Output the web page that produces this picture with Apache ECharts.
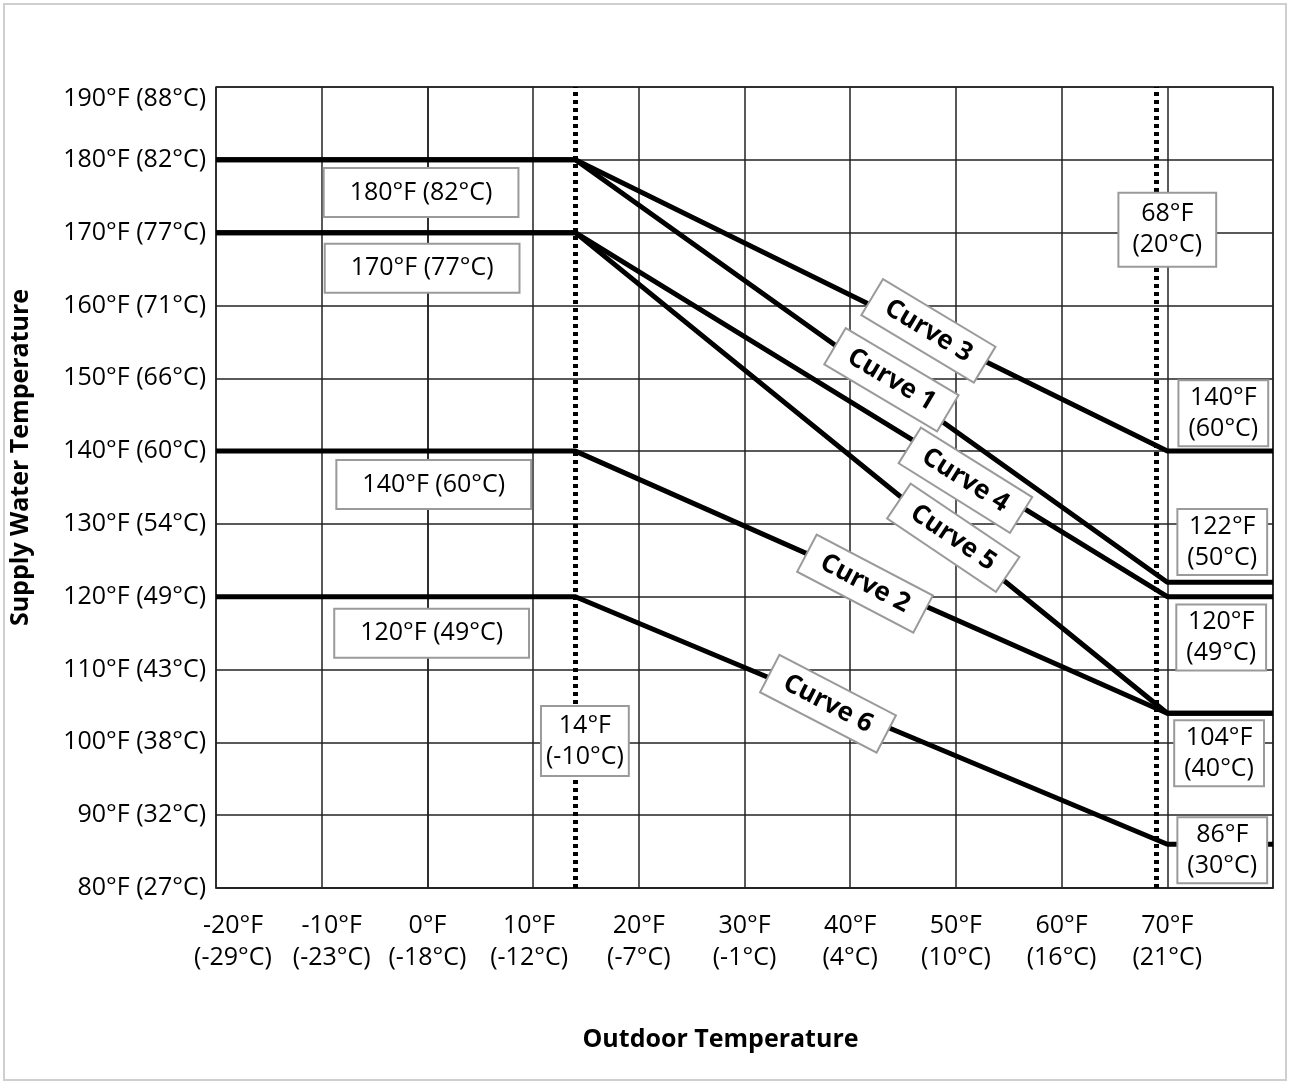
<!DOCTYPE html>
<html>
<head>
<meta charset="utf-8">
<script src="https://cdn.jsdelivr.net/npm/echarts@6/dist/echarts.min.js"></script>
<style>
html,body{margin:0;padding:0;background:#fff;}
#chart{width:1293px;height:1086px;}
</style>
</head>
<body>
<div id="chart"></div>
<script>
// ---- data ----
const xTicks = [-20, -10, 0, 10, 20, 30, 40, 50, 60, 70];
const xTickF = ['-20°F', '-10°F', '0°F', '10°F', '20°F', '30°F', '40°F', '50°F', '60°F', '70°F'];
const xTickC = ['(-29°C)', '(-23°C)', '(-18°C)', '(-12°C)', '(-7°C)', '(-1°C)', '(4°C)', '(10°C)', '(16°C)', '(21°C)'];
const yTicks = [80, 90, 100, 110, 120, 130, 140, 150, 160, 170, 180, 190];
const yTickLabels = ['80°F (27°C)', '90°F (32°C)', '100°F (38°C)', '110°F (43°C)', '120°F (49°C)', '130°F (54°C)',
  '140°F (60°C)', '150°F (66°C)', '160°F (71°C)', '170°F (77°C)', '180°F (82°C)', '190°F (88°C)'];

const outdoorPoints = [-20, 14, 70, 80];
const curve1 = [180, 180, 122, 122];
const curve2 = [140, 140, 104, 104];
const curve3 = [180, 180, 140, 140];
const curve4 = [170, 170, 120, 120];
const curve5 = [170, 170, 104, 104];
const curve6 = [120, 120, 86, 86];
const curveNames = ['Curve 1', 'Curve 2', 'Curve 3', 'Curve 4', 'Curve 5', 'Curve 6'];
const curveValues = [curve1, curve2, curve3, curve4, curve5, curve6];

const designOutdoor = [14, 69];

// annotation anchors (data coordinates)
const curveLabelX = [43.9, 41.4, 47.4, 50.9, 49.75, 37.9];
const curveLabelY = [149.8, 121.8, 156.5, 136.0, 128.1, 105.3];

const setpointText = ['180°F (82°C)', '170°F (77°C)', '140°F (60°C)', '120°F (49°C)'];
const setpointX = [-0.6, -0.5, 0.6, 0.4];
const setpointY = [175.5, 165.1, 135.4, 115.0];

const endText = ['140°F\n(60°C)', '122°F\n(50°C)', '120°F\n(49°C)', '104°F\n(40°C)', '86°F\n(30°C)'];
const endX = [75.3, 75.2, 75.1, 74.9, 75.2];
const endY = [145.2, 127.5, 114.4, 98.5, 85.2];

const designText = ['14°F\n(-10°C)', '68°F\n(20°C)'];
const designX = [14.9, 70];
const designY = [100.2, 170.4];

// ---- styles ----
const FONT = 'Open Sans';
const curveRotate = {'Curve 1': -30.7, 'Curve 2': -27.7, 'Curve 3': -31, 'Curve 4': -32, 'Curve 5': -34, 'Curve 6': -27.4};
// horizontal nudges (px) of some x tick labels, as in the reference
const xLabelShift = {'-20': 17, '-10': 10, '10': -4};
const boxBase = {
  show: true, position: 'inside', align: 'center', verticalAlign: 'middle',
  fontFamily: FONT, fontSize: 25, color: '#000',
  backgroundColor: '#fff', borderColor: '#9a9a9a', borderWidth: 2
};

const chart = echarts.init(document.getElementById('chart'), null, {renderer: 'canvas'});

const series = [];
curveValues.forEach((vals, i) => {
  series.push({
    name: curveNames[i], type: 'line', showSymbol: false, symbol: 'none', silent: true,
    data: outdoorPoints.map((x, j) => [x, vals[j]]),
    lineStyle: {color: '#000', width: 5}, z: 3
  });
});

// dotted design lines
series.push({
  type: 'line', data: [], silent: true,
  markLine: {
    silent: true, symbol: 'none', animation: false,
    label: {show: false},
    lineStyle: {color: '#000', width: 5, type: [4, 4]},
    data: designOutdoor.map(v => ({xAxis: v}))
  }, z: 4
});

const labelData = [];
curveNames.forEach((n, i) => {
  labelData.push({
    value: [curveLabelX[i], curveLabelY[i]],
    label: Object.assign({}, boxBase, {formatter: n, fontWeight: 'bold', fontSize: 26, lineHeight: 30,
      padding: [5, 16], rotate: curveRotate[n]})
  });
});
setpointText.forEach((t, i) => {
  labelData.push({
    value: [setpointX[i], setpointY[i]],
    label: Object.assign({}, boxBase, {formatter: t, lineHeight: 31, padding: [8, 25]})
  });
});
endText.forEach((t, i) => {
  labelData.push({
    value: [endX[i], endY[i]],
    label: Object.assign({}, boxBase, {formatter: t, lineHeight: 31, padding: [1, 9]})
  });
});
designText.forEach((t, i) => {
  labelData.push({
    value: [designX[i], designY[i]],
    label: Object.assign({}, boxBase, {formatter: t, lineHeight: 31, padding: i === 0 ? [3, 4] : [5, 13]})
  });
});
series.push({
  type: 'scatter', symbolSize: 0, silent: true, data: labelData, z: 10,
  itemStyle: {opacity: 1},
  labelLayout: {hideOverlap: false}
});

const xRich = {
  c: {fontFamily: FONT, fontSize: 25, color: '#000', lineHeight: 32}
};
Object.keys(xLabelShift).forEach(k => {
  const s = xLabelShift[k];
  xRich['s' + xTicks.indexOf(Number(k))] = {
    fontFamily: FONT, fontSize: 25, color: '#000', lineHeight: 32,
    padding: s > 0 ? [0, 0, 0, 2 * s] : [0, -2 * s, 0, 0]
  };
});

const option = {
  animation: false,
  backgroundColor: '#fff',
  grid: {left: 215, right: 20, top: 87, bottom: 198, show: true, borderColor: '#222', borderWidth: 1.5},
  xAxis: {
    type: 'value', min: -20, max: 80, interval: 10,
    name: 'Outdoor Temperature', nameLocation: 'middle', nameGap: 139,
    nameTextStyle: {fontFamily: FONT, fontSize: 25, fontWeight: 'bold', color: '#000', padding: [0, 48, 0, 0]},
    axisLine: {show: true, lineStyle: {color: '#222', width: 1.5}},
    axisTick: {show: false},
    splitLine: {show: true, lineStyle: {color: '#222', width: 1.5}},
    axisLabel: {
      fontFamily: FONT, fontSize: 25, color: '#000', lineHeight: 32, margin: 22,
      formatter: v => {
        const i = xTicks.indexOf(v);
        if (i < 0) return '';
        const st = ('s' + i) in xRich ? 's' + i : 'c';
        return '{' + st + '|' + xTickF[i] + '}\n{' + st + '|' + xTickC[i] + '}';
      },
      rich: xRich
    }
  },
  yAxis: {
    type: 'value', min: 80, max: 190, interval: 10,
    name: 'Supply Water Temperature', nameLocation: 'middle', nameGap: 183, nameRotate: 90,
    nameTextStyle: {fontFamily: FONT, fontSize: 25, fontWeight: 'bold', color: '#000', padding: [0, 0, 0, 60]},
    axisLine: {show: true, lineStyle: {color: '#222', width: 1.5}},
    axisTick: {show: false},
    splitLine: {show: true, lineStyle: {color: '#222', width: 1.5}},
    axisLabel: {
      fontFamily: FONT, fontSize: 25, color: '#000', margin: 10,
      formatter: v => {
        const i = yTicks.indexOf(v);
        if (i < 0) return '';
        return v === 190 ? '{top|' + yTickLabels[i] + '}' : yTickLabels[i];
      },
      rich: {top: {fontFamily: FONT, fontSize: 25, color: '#000', padding: [24, 0, 0, 0]}}
    }
  },
  graphic: [{
    type: 'rect', shape: {x: 4, y: 4, width: 1282, height: 1076},
    style: {fill: 'none', stroke: '#cfcfcf', lineWidth: 2}, silent: true, z: -1
  }],
  series: series
};
chart.setOption(option);
</script>
</body>
</html>
